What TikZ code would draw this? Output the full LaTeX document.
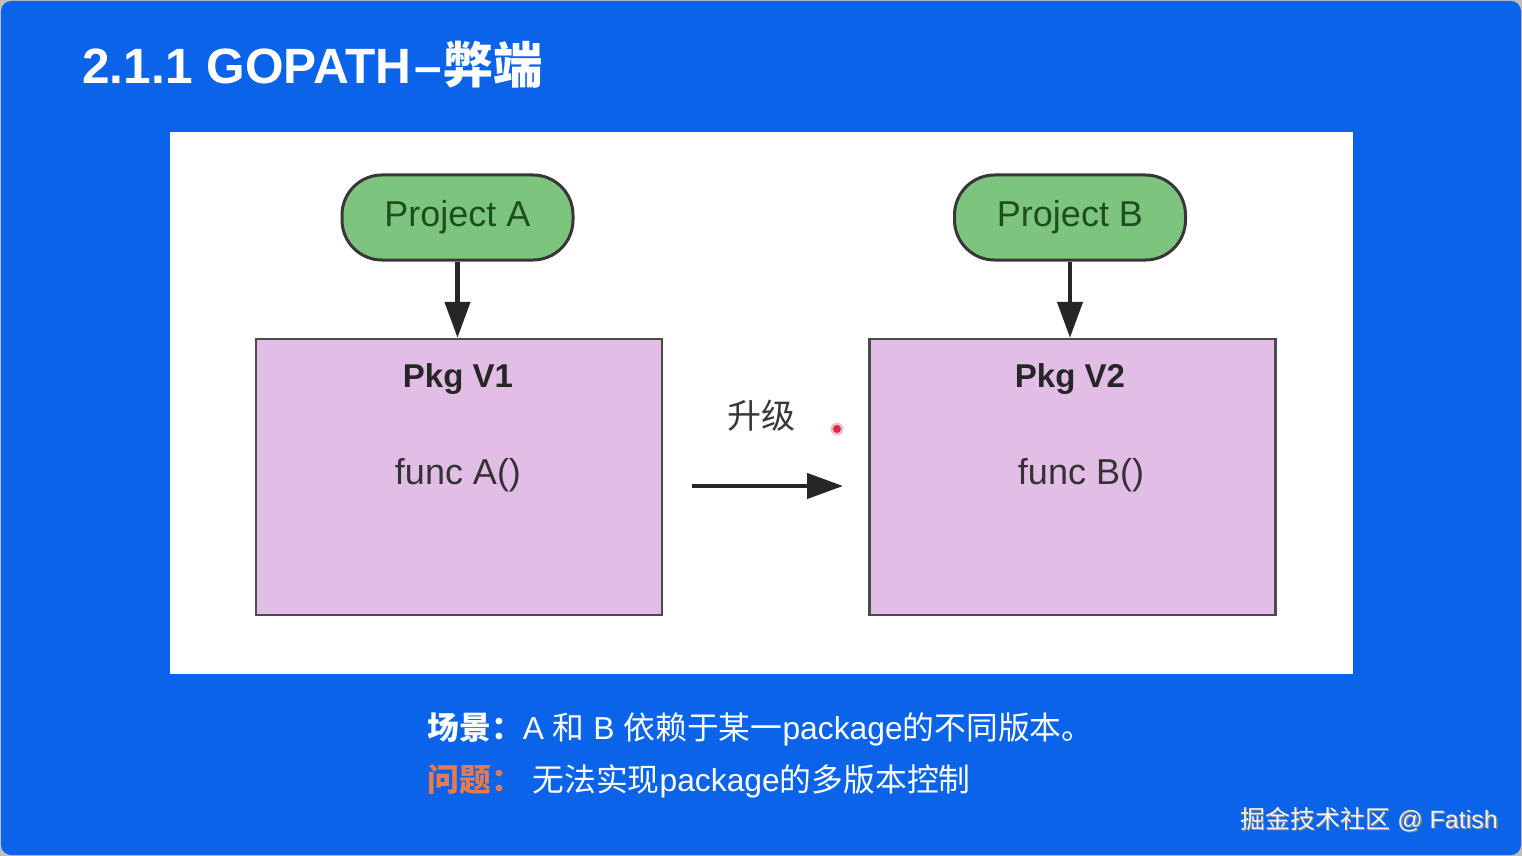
\documentclass[tikz,border=0pt]{standalone}
\usepackage{fontspec}
\setmainfont{Liberation Sans}
\newfontfamily\cjk{Noto Sans CJK SC}
\usetikzlibrary{arrows.meta}
\definecolor{bgblue}{RGB}{10,99,232}
\definecolor{projfill}{RGB}{125,197,127}
\definecolor{projtext}{RGB}{28,78,30}
\definecolor{pkgfill}{RGB}{226,190,230}
\definecolor{edgegray}{RGB}{55,55,55}
\definecolor{qorange}{RGB}{228,122,80}
\definecolor{dotred}{RGB}{225,40,70}
\newcommand{\zh}[1]{{\cjk #1}}
\tikzset{
  projbox/.style={draw=edgegray, line width=1.5pt, fill=projfill, rounded corners=20pt,
    minimum width=115.5pt, minimum height=42.5pt, inner sep=0pt, text=projtext,
    font=\fontsize{18}{20}\selectfont},
  pkgbox/.style={draw=edgegray!90, line width=1.2pt, fill=pkgfill,
    minimum width=203pt, minimum height=138pt, inner sep=0pt},
  pkgtitle/.style={text=black!85, font=\fontsize{16.5}{18}\selectfont\bfseries},
  functext/.style={text=black!80, font=\fontsize{18}{20}\selectfont},
  arr/.style={draw=black!85, line width=2.2pt, -{Triangle[length=18pt,width=12.5pt]}},
  bottomtext/.style={anchor=base west, inner sep=0pt, text=white, font=\fontsize{15.9}{18}\selectfont}
}
\begin{document}
\begin{tikzpicture}[x=0.5pt,y=-0.5pt]
\useasboundingbox (0,0) rectangle (1522,856);
\fill[black!25] (0,0) rectangle (1522,856);
\fill[bgblue, rounded corners=5pt] (1,1) rectangle (1521,855);
\fill[white] (170,132) rectangle (1353,674);

% title
\node[anchor=base west, inner sep=0pt, text=white, font=\fontsize{24.8}{28}\selectfont\bfseries]
  (title) at (82,84) {2.1.1 GOPATH\kern1.5pt–\kern1pt\zh{弊端}};

% projects
\node[projbox] (pa) at (457.5,217.5) {Project A};
\node[projbox] (pb) at (1070,217.5) {Project B};

% packages
\node[pkgbox] (p1) at (459,477) {};
\node[pkgbox] (p2) at (1072.5,477) {};
\node[pkgtitle] (p1t) at (458,379) {Pkg V1};
\node[pkgtitle] (p2t) at (1070,379) {Pkg V2};
\node[functext] (p1f) at (458,475) {func A()};
\node[functext] (p2f) at (1081,475) {func B()};

% arrows
\draw[arr] (pa.south) -- (pa.south |- p1.north);
\draw[arr] (pb.south) -- (pb.south |- p2.north);
\coordinate (m1) at (692,486);
\coordinate (m2) at (843,486);
\draw[arr] (m1) -- (m2);
\node[text=black!78, font=\fontsize{17}{20}\selectfont\cjk] (up) at (761,416) {升级};

% laser dot
\fill[dotred!30] (837,429) circle (6.5);
\fill[dotred] (837,429) circle (4);

% bottom text
\node[bottomtext] (s1) at (427,739) {\zh{\bfseries 场景：}A \zh{和} B \zh{依赖于某一}package\zh{的不同版本。}};
\node[bottomtext, text=qorange] (s2a) at (427,791) {\zh{\bfseries 问题：}};
\node[bottomtext] (s2b) at (532,791) {\zh{无法实现}package\zh{的多版本控制}};

% watermark
\node[anchor=base west, inner sep=0pt, text=black!45, font=\fontsize{12.5}{14}\selectfont] (wms) at (1241.5,829.5) {\zh{掘金技术社区} @ Fatish};
\node[anchor=base west, inner sep=0pt, text=white!95!black, font=\fontsize{12.5}{14}\selectfont] (wm) at (1240,828) {\zh{掘金技术社区} @ Fatish};
\end{tikzpicture}
\end{document}
